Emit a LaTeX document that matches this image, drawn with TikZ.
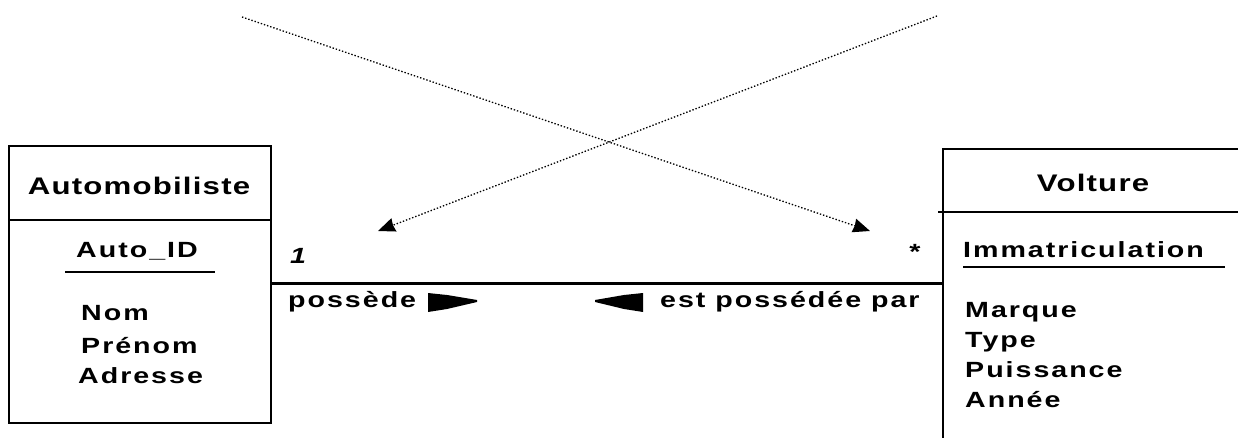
\documentclass[tikz,border=0pt]{standalone}
\usepackage{fontspec}
\newfontfamily\umlfont{Liberation Sans}[FakeStretch=1.3,LetterSpace=5]
\newfontfamily\attrfont{Liberation Sans}[FakeStretch=1.3,LetterSpace=9]
\usetikzlibrary{arrows.meta}
\tikzset{
  classbox/.style={draw,line width=1.6pt,inner sep=0pt},
  titletext/.style={font=\umlfont\bfseries\fontsize{24}{28}\selectfont,inner sep=0pt,anchor=base},
  attrtext/.style={font=\attrfont\bfseries\fontsize{22}{26}\selectfont,inner sep=0pt,anchor=base west},
  roletext/.style={font=\attrfont\bfseries\fontsize{22}{26}\selectfont,inner sep=0pt,anchor=base west},
  assoc/.style={line width=2.8pt},
  note/.style={line width=1.3pt,dash pattern=on 1.4pt off 1.9pt,-{Stealth[length=17pt,width=14pt,inset=1pt]}}
}
\begin{document}
\begin{tikzpicture}[x=1pt,y=-1pt,line join=miter]
	\useasboundingbox (0,0) rectangle (1238,438);
	% classes
	\node[classbox,minimum width=262pt,minimum height=277pt,anchor=north west] (auto) at (8,145) {};
	\node[classbox,minimum width=330pt,minimum height=320pt,anchor=north west] (voiture) at (942,148) {};
	\draw[line width=1.6pt] (auto.west |- 0,220) -- (auto.east |- 0,220);
	\draw[line width=1.6pt] (938,212) -- (1260,212);
	% Automobiliste
	\node[titletext] (autoname) at (139,195) {Automobiliste};
	\node[attrtext,anchor=base] (autoid) at (137,258) {Auto\_ID};
	\draw[line width=1.3pt] (65,272) -- (215,272);
	\node[attrtext] (nom) at (81,320) {Nom};
	\node[attrtext] (prenom) at (81,353) {Prénom};
	\node[attrtext] (adresse) at (78,383) {Adresse};
	% Voiture
	\node[titletext] (voiturename) at (1093,192) {Volture};
	\node[attrtext] (immat) at (963,258) {Immatriculation};
	\draw[line width=1.3pt] (963,267) -- (1225,267);
	\node[attrtext] (marque) at (965,317) {Marque};
	\node[attrtext] (type) at (965,347) {Type};
	\node[attrtext] (puissance) at (965,377) {Puissance};
	\node[attrtext] (annee) at (965,407) {Année};
	% association
	\coordinate (assocY) at (0,283.5);
	\draw[assoc] (auto.east |- assocY) -- (voiture.west |- assocY);
	\node[roletext] (multL) at (290,263) {\itshape 1};
	\node[roletext,anchor=center] (multR) at (915,252) {*};
	\node[roletext] (possede) at (288,307) {possède};
	\node[roletext] (possedee) at (660,307) {est possédée par};
	\fill (428,293)--(447,295)--(477,300)--(477,302)--(447,309)--(428,312)--cycle;
	\fill (643,293)--(624,295)--(595,300)--(595,302)--(624,309)--(643,312)--cycle;
	% annotation arrows
	\coordinate (srcL) at (242,17);
	\coordinate (srcR) at (937,16);
	\coordinate (tipL) at (378,231);
	\coordinate (tipR) at (870,231);
	\draw[note] (srcL) -- (tipR);
	\draw[note] (srcR) -- (tipL);
\end{tikzpicture}
\end{document}
